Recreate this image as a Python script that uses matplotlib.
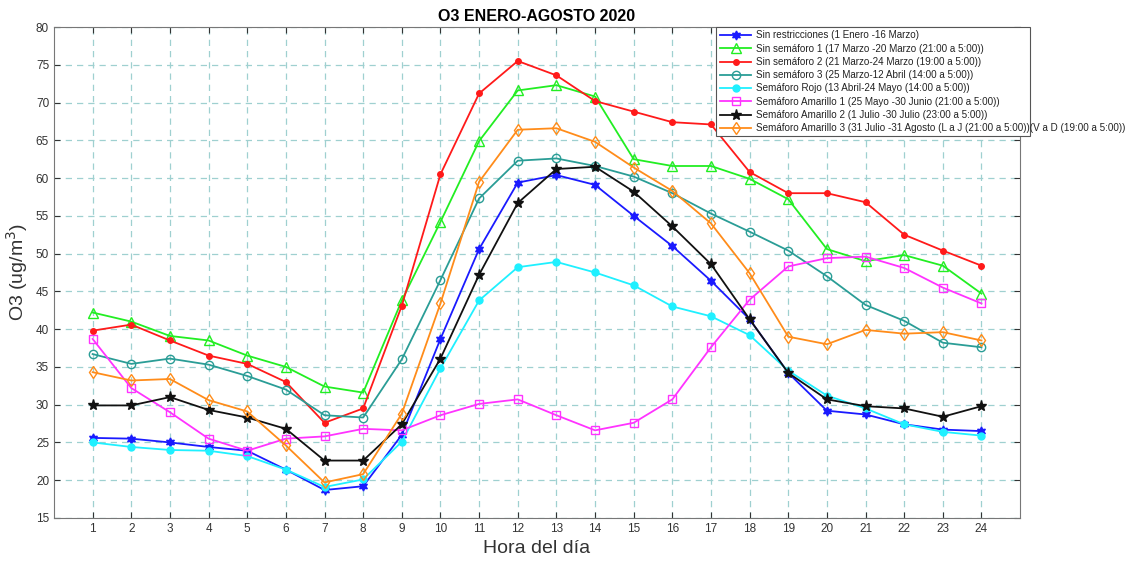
import matplotlib
matplotlib.use("Agg")
import matplotlib.pyplot as plt
from matplotlib.patches import Rectangle

plt.rcParams["font.family"] = ["Liberation Sans", "DejaVu Sans"]

# Hora del dia
horas = list(range(1, 25))

sin_restricciones = [25.6, 25.5, 25.0, 24.4, 23.9, 21.4, 18.7, 19.2, 26.0, 38.7, 50.6, 59.4,
                     60.4, 59.1, 55.0, 51.0, 46.4, 41.3, 34.2, 29.2, 28.7, 27.4, 26.7, 26.5]
sin_semaforo_1 = [42.2, 41.0, 39.1, 38.5, 36.5, 35.0, 32.4, 31.6, 43.8, 54.2, 64.9, 71.6,
                  72.3, 70.8, 62.5, 61.6, 61.6, 59.9, 57.2, 50.6, 49.0, 49.8, 48.4, 44.7]
sin_semaforo_2 = [39.8, 40.6, 38.5, 36.5, 35.4, 33.0, 27.6, 29.5, 43.1, 60.5, 71.2, 75.5,
                  73.6, 70.2, 68.8, 67.4, 67.1, 60.8, 58.0, 58.0, 56.8, 52.5, 50.4, 48.4]
sin_semaforo_3 = [36.7, 35.4, 36.1, 35.3, 33.8, 32.0, 28.6, 28.3, 36.0, 46.5, 57.3, 62.3,
                  62.6, 61.6, 60.2, 58.0, 55.3, 52.9, 50.4, 47.0, 43.2, 41.1, 38.2, 37.6]
semaforo_rojo = [25.0, 24.4, 24.0, 23.9, 23.2, 21.4, 19.1, 20.1, 25.1, 34.8, 43.8, 48.2,
                 48.9, 47.5, 45.8, 43.0, 41.7, 39.2, 34.5, 31.2, 29.5, 27.4, 26.4, 25.9]
amarillo_1 = [38.7, 32.2, 29.0, 25.5, 23.9, 25.5, 25.8, 26.8, 26.6, 28.6, 30.1, 30.7,
              28.6, 26.6, 27.6, 30.7, 37.6, 43.9, 48.3, 49.4, 49.6, 48.1, 45.5, 43.4]
amarillo_2 = [29.9, 29.9, 31.0, 29.3, 28.3, 26.8, 22.6, 22.6, 27.4, 36.1, 47.2, 56.7,
              61.2, 61.5, 58.2, 53.6, 48.6, 41.3, 34.2, 30.7, 29.8, 29.5, 28.4, 29.8]
amarillo_3 = [34.3, 33.2, 33.4, 30.6, 29.1, 24.6, 19.7, 20.8, 28.8, 43.4, 59.5, 66.4,
              66.6, 64.8, 61.4, 58.3, 54.0, 47.4, 39.0, 38.0, 39.9, 39.4, 39.6, 38.5]

etiquetas = [
    "Sin restricciones (1 Enero -16 Marzo)",
    "Sin semáforo 1 (17 Marzo -20 Marzo (21:00 a 5:00))",
    "Sin semáforo 2 (21 Marzo-24 Marzo (19:00 a 5:00))",
    "Sin semáforo 3 (25 Marzo-12 Abril (14:00 a 5:00))",
    "Semáforo Rojo (13 Abril-24 Mayo (14:00 a 5:00))",
    "Semáforo Amarillo 1 (25 Mayo -30 Junio (21:00 a 5:00))",
    "Semáforo Amarillo 2 (1 Julio -30 Julio (23:00 a 5:00))",
    "Semáforo Amarillo 3 (31 Julio -31 Agosto (L a J (21:00 a 5:00))(V a D (19:00 a 5:00))",
]

series = [sin_restricciones, sin_semaforo_1, sin_semaforo_2, sin_semaforo_3,
          semaforo_rojo, amarillo_1, amarillo_2, amarillo_3]

# estilo de cada serie: color, marcador, relleno, tamaño
estilos = [
    ("#1a1aff", (6, 1, 0), True, 6.5),
    ("#22ee22", "^", False, 7),
    ("#ff1a1a", "o", True, 4),
    ("#2a9d96", "o", False, 6),
    ("#1ff0ff", "o", True, 5),
    ("#ff33ff", "s", False, 5.5),
    ("#111111", "*", True, 8),
    ("#ff8c1a", "d", False, 6.5),
]

fig = plt.figure(figsize=(11.34, 5.63), dpi=100)
ax = fig.add_axes([0.0476, 0.080, 0.852, 0.872])

for ys, lab, (col, mk, filled, ms) in zip(series, etiquetas, estilos):
    ax.plot(horas, ys, color=col, marker=mk, markersize=ms, linewidth=1.3,
            markerfacecolor=col if filled else "none", markeredgecolor=col,
            markeredgewidth=1.0, label=lab)

ax.set_xlim(0, 25)
ax.set_ylim(15, 80)
ax.set_xticks(horas)
ax.set_yticks(range(15, 81, 5))
ax.tick_params(labelsize=8.5, colors="#333333", direction="in", length=4,
               top=True, right=True)
ax.grid(True, linestyle=(0, (5, 4)), color="#9fd0d0", linewidth=0.9)
for s in ax.spines.values():
    s.set_color("#777777")

ax.set_title("O3 ENERO-AGOSTO 2020", fontsize=11.5, fontweight="bold", pad=4)
ax.set_xlabel("Hora del día", fontsize=14, color="#333333")
ax.set_ylabel("O3 (ug/m$^3$)", fontsize=14, color="#333333")

# caja de la leyenda (el texto largo se sale de la caja, como en el original)
W, H = 1134.0, 563.0
caja = Rectangle((716 / W, 1 - 136 / H), (1030 - 716) / W, (136 - 27) / H,
                 transform=fig.transFigure, facecolor="white", edgecolor="#555555",
                 linewidth=0.8, zorder=4.5, clip_on=False)
ax.add_artist(caja)

leg = ax.legend(loc="upper left", bbox_to_anchor=(718 / W, 1 - 28 / H),
                bbox_transform=fig.transFigure, fontsize=7.1, frameon=False,
                borderpad=0.25, labelspacing=0.33, handlelength=3.1,
                handletextpad=0.55, borderaxespad=0.0)
for t in leg.get_texts():
    t.set_color("#222222")

fig.savefig("out.png", dpi=100)
